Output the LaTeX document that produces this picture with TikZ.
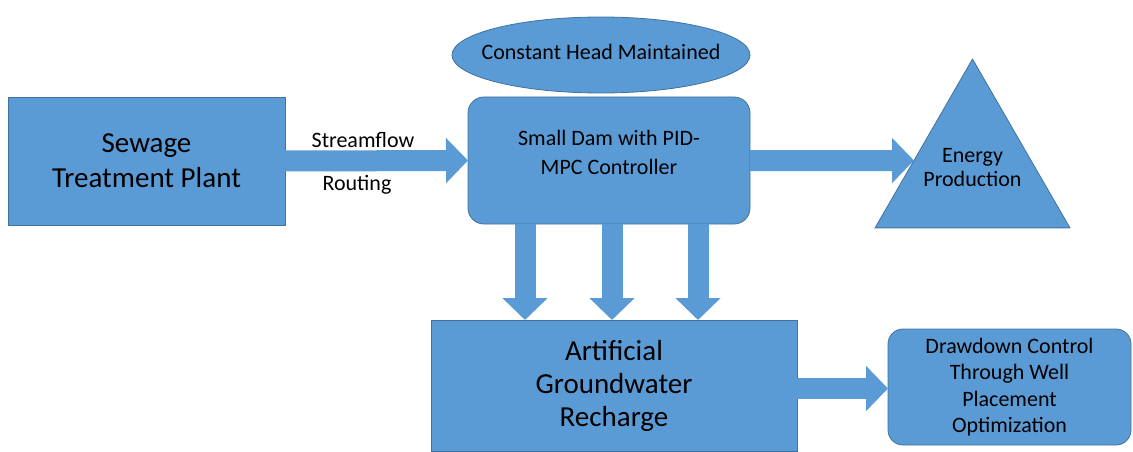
\documentclass[tikz,border=0pt]{standalone}
\usepackage{fontspec}
\setmainfont{Carlito}
\usetikzlibrary{arrows.meta,shapes.geometric,calc}
\definecolor{boxblue}{HTML}{5B9BD5}
\definecolor{edgeblue}{HTML}{41719C}
\begin{document}
\begin{tikzpicture}[x=1pt,y=-1pt,
  box/.style={draw=edgeblue, line width=0.8pt, fill=boxblue, inner sep=0pt, outer sep=0pt, align=center},
  big/.style={font=\fontsize{29}{35}\selectfont},
  small/.style={font=\fontsize{22}{26}\selectfont},
  flow/.style={draw=boxblue, line width=21pt, -{Triangle[width=44pt,length=22pt]}}
]
\useasboundingbox (0,0) rectangle (1133,452);

\node[box, big, minimum width=277pt, minimum height=128pt] (stp) at (146.5,161) {Sewage\\Treatment Plant};

\node[box, ellipse, minimum width=298pt, minimum height=76pt,
  label={[small, yshift=3pt]center:Constant Head Maintained}] (head) at (601,55) {};

\node[box, rounded corners=16pt, minimum width=282pt, minimum height=127pt,
  label={[align=center, yshift=8pt, font=\fontsize{22}{29}\selectfont]center:Small Dam with PID-\\MPC Controller}] (dam) at (609,160.5) {};

\node[box, regular polygon, regular polygon sides=3, minimum size=225pt,
  label={[align=center, yshift=3.6pt, font=\fontsize{22}{24}\selectfont]center:Energy\\Production}] (tri) at (972.5,171.6) {};

\node[box, font=\fontsize{29}{33}\selectfont, minimum width=366pt, minimum height=131pt] (agr) at (614,385.5) {Artificial\\Groundwater\\Recharge};

\node[box, font=\fontsize{22}{26.3}\selectfont, rounded corners=15pt, minimum width=243pt, minimum height=116pt] (ddc) at (1009.5,387) {Drawdown Control\\Through Well\\Placement\\Optimization};

\node[small] (sf) at (363,140) {Streamflow};
\node[small] (rt) at (357,185) {Routing};

\draw[flow] (stp.east) -- (dam.west);
\coordinate (far) at ($(dam.east)+(250,0)$);
\draw[flow] (dam.east) -- (intersection of dam.east--far and tri.corner 1--tri.corner 2);
\foreach \dx in {-84,3,89}
  \draw[flow] ([xshift=\dx pt]dam.south) -- ([xshift=\dx pt]dam.south |- agr.north);
\draw[flow] ([yshift=-3pt]agr.east) -- ([yshift=-3pt]agr.east -| ddc.west);
\end{tikzpicture}
\end{document}
